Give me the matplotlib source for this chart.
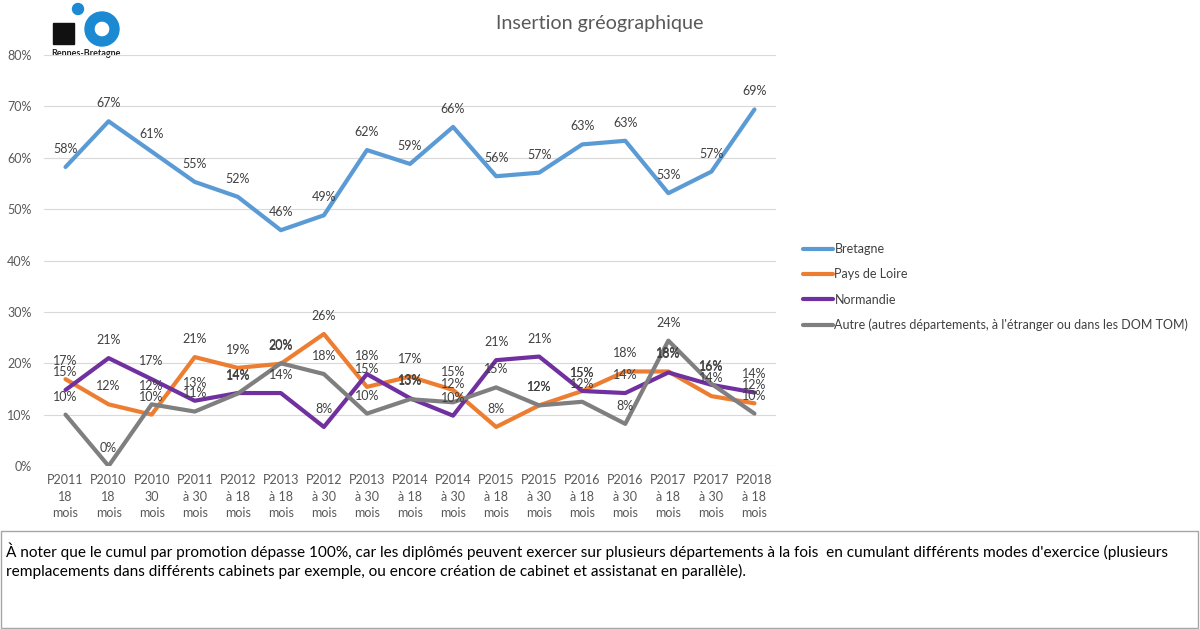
import matplotlib
matplotlib.use("Agg")
import matplotlib.pyplot as plt
from matplotlib.patches import Rectangle, Circle, Wedge

plt.rcParams['font.family'] = ['Lato', 'DejaVu Sans']

categories = ["P2011\n18\nmois", "P2010\n18\nmois", "P2010\n30\nmois", "P2011\nà 30\nmois",
              "P2012\nà 18\nmois", "P2013\nà 18\nmois", "P2012\nà 30\nmois", "P2013\nà 30\nmois",
              "P2014\nà 18\nmois", "P2014\nà 30\nmois", "P2015\nà 18\nmois", "P2015\nà 30\nmois",
              "P2016\nà 18\nmois", "P2016\nà 30\nmois", "P2017\nà 18\nmois", "P2017\nà 30\nmois",
              "P2018\nà 18\nmois"]
bretagne = [58.2, 67.1, 61.2, 55.3, 52.4, 45.9, 48.8, 61.5, 58.8, 66.0, 56.4, 57.1, 62.6, 63.3, 53.1, 57.3, 69.4]
pays_loire = [16.9, 12.0, 10.0, 21.2, 19.1, 19.9, 25.7, 15.4, 17.4, 14.8, 7.6, 11.8, 14.6, 18.4, 18.4, 13.6, 12.2]
normandie = [14.8, 21.0, 16.9, 12.7, 14.2, 14.2, 7.6, 17.9, 13.2, 9.8, 20.6, 21.3, 14.6, 14.2, 18.2, 15.8, 14.3]
autre = [10.0, 0.0, 12.0, 10.6, 14.1, 20.0, 17.9, 10.2, 13.0, 12.4, 15.3, 11.8, 12.5, 8.2, 24.4, 16.0, 10.2]
series_names = ["Bretagne", "Pays de Loire", "Normandie",
                "Autre (autres départements, à l'étranger ou dans les DOM TOM)"]
colors = ["#5b9bd5", "#ed7d31", "#7030a0", "#7f7f7f"]
yticks = [0, 10, 20, 30, 40, 50, 60, 70, 80]

fig = plt.figure(figsize=(12, 6.29), dpi=100)

# overlay in pixel coordinates for decoration (logo, text box)
ov = fig.add_axes([0, 0, 1, 1])
ov.set_xlim(0, 1200)
ov.set_ylim(629, 0)
ov.axis('off')
blue = "#1b8ad3"
ov.add_patch(Rectangle((53, 23), 21, 21, color='#111111'))
ov.add_patch(Wedge((102, 29), 17, 0, 360, width=9, color=blue))
ov.add_patch(Circle((78, 9), 5.5, color=blue))
ov.text(86, 54, "Rennes-Bretagne", fontsize=6.5, fontweight='bold', color='#222222',
        ha='center', va='center')
ov.add_patch(Rectangle((0.5, 531), 1197, 97, fill=False, edgecolor='#a6a6a6', lw=1))
ov.text(6, 551, "À noter que le cumul par promotion dépasse 100%, car les diplômés peuvent exercer sur plusieurs départements à la fois  en cumulant différents modes d'exercice (plusieurs",
        fontsize=11.05, color='black', va='center', ha='left')
ov.text(6, 571, "remplacements dans différents cabinets par exemple, ou encore création de cabinet et assistanat en parallèle).",
        fontsize=11.05, color='black', va='center', ha='left')
ov.text(600, 23, "Insertion gréographique", fontsize=14.2, color='#595959', ha='center', va='center')

ax = fig.add_axes([44/1200, 1 - 466/629, 732/1200, 411/629])
ax.patch.set_visible(False)
x = list(range(len(categories)))
lines = []
for vals, name, c in zip([bretagne, pays_loire, normandie, autre], series_names, colors):
    fr = [v / 100 for v in vals]
    ln, = ax.plot(x, fr, color=c, lw=3, label=name, solid_capstyle='round', solid_joinstyle='round')
    lines.append(ln)
    for xi, v in zip(x, vals):
        ax.annotate(f"{round(v)}%", (xi, v / 100), xytext=(0, 13), textcoords='offset points',
                    ha='center', va='center', fontsize=9, color='#404040')

ax.set_xlim(-0.5, len(categories) - 0.5)
ax.set_ylim(0, 0.8)
ax.set_yticks([t / 100 for t in yticks])
ax.set_yticklabels([f"{t}%" for t in yticks])
ax.set_xticks(x)
ax.set_xticklabels(categories, linespacing=1.45)
ax.tick_params(axis='both', length=0, labelsize=9, labelcolor='#595959')
ax.tick_params(axis='y', pad=9)
ax.tick_params(axis='x', pad=6)
ax.grid(axis='y', color='#d9d9d9', lw=0.8)
ax.set_axisbelow(True)
for s in ax.spines.values():
    s.set_visible(False)

fig.legend(handles=lines, labels=series_names, loc='upper left',
           bbox_to_anchor=(792/1200, 1 - 232/629), frameon=False, fontsize=9,
           handlelength=2.4, handletextpad=0.1, labelspacing=1.05, labelcolor='#404040')

fig.savefig("out.png", dpi=100)
